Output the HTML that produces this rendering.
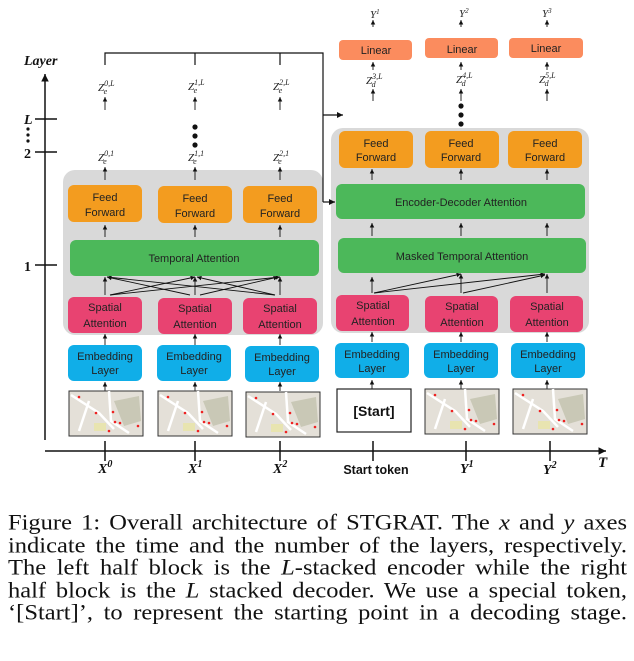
<!DOCTYPE html>
<html><head><meta charset="utf-8"><style>
body{margin:0;width:634px;height:661px;background:#fff;overflow:hidden;position:relative}
svg{position:absolute;left:0;top:0}
.cap{position:absolute;left:8px;top:512px;width:619px;font-family:"Liberation Serif",serif;font-size:24.5px;line-height:24.5px;color:#111;transform:scaleY(0.92);transform-origin:0 0}
.cap div{text-align:justify;text-align-last:justify;white-space:nowrap}
.b text{font-family:"Liberation Sans",sans-serif;font-size:11px;fill:#222;text-anchor:middle}
.m text{font-family:"Liberation Serif",serif;font-style:italic;fill:#222}
</style></head><body>
<svg width="634" height="500" viewBox="0 0 634 500">
<defs>
<marker id="a" markerWidth="6" markerHeight="6" refX="5" refY="3" orient="auto"><path d="M0,0.5 L5,3 L0,5.5z" fill="#111"/></marker>
<g id="map">
<rect x="0" y="0" width="74" height="45" fill="#e4e0d8" stroke="#333" stroke-width="1"/>
<path d="M45,10 L70,5 L72,30 L55,35 Z" fill="#c9c8b6"/>
<rect x="25" y="32" width="12" height="8" fill="#e8e4b0"/>
<path d="M2,4 L30,22 L45,38 M40,0 L42,30 L60,42 M20,10 L10,40" stroke="#fff" stroke-width="2.5" fill="none"/>
<circle cx="10" cy="6" r="1.3" fill="#e22"/><circle cx="27" cy="22" r="1.3" fill="#e22"/><circle cx="44" cy="21" r="1.3" fill="#e22"/>
<circle cx="46" cy="31" r="1.3" fill="#e22"/><circle cx="51" cy="32" r="1.3" fill="#e22"/><circle cx="40" cy="40" r="1.3" fill="#e22"/><circle cx="69" cy="35" r="1.3" fill="#e22"/>
</g>
</defs>
<g stroke="#111" stroke-width="1.5" fill="none">
<line x1="45" y1="440" x2="45" y2="74" marker-end="url(#a)"/>
<line x1="45" y1="451" x2="606" y2="451" marker-end="url(#a)"/>
<line x1="35" y1="119" x2="57" y2="119"/><line x1="35" y1="152" x2="57" y2="152"/><line x1="35" y1="265" x2="57" y2="265"/>
<line x1="105" y1="441" x2="105" y2="461"/><line x1="195" y1="441" x2="195" y2="461"/><line x1="280" y1="441" x2="280" y2="461"/>
<line x1="373" y1="441" x2="373" y2="461"/><line x1="466" y1="441" x2="466" y2="461"/><line x1="550" y1="441" x2="550" y2="461"/>
</g>
<g font-family="Liberation Serif,serif" font-weight="bold" fill="#111">
<text x="24" y="65" font-size="14" font-style="italic">Layer</text>
<text x="24" y="124" font-size="14" font-style="italic">L</text>
<text x="24" y="158" font-size="14">2</text>
<text x="24" y="271" font-size="14">1</text>
<text x="598" y="467" font-size="15" font-style="italic">T</text>
</g>
<g fill="#111"><circle cx="28" cy="129" r="1.6"/><circle cx="28" cy="135" r="1.6"/><circle cx="28" cy="141" r="1.6"/></g>
<rect x="63" y="170" width="260" height="165" rx="12" fill="#d9d9d9"/>
<rect x="331" y="128" width="258" height="205" rx="12" fill="#d9d9d9"/>
<g stroke="#111" stroke-width="1.2" fill="none">
<path d="M105,65 V53 H323 V202"/><line x1="195" y1="53" x2="195" y2="65"/><line x1="280" y1="53" x2="280" y2="65"/>
<line x1="323" y1="115" x2="343" y2="115" marker-end="url(#a)"/>
<line x1="323" y1="202" x2="335" y2="202" marker-end="url(#a)"/>
</g>
<g stroke="#111" stroke-width="0.9" fill="none" marker-end="url(#a)">
<line x1="105" y1="110" x2="105" y2="97"/><line x1="195" y1="110" x2="195" y2="97"/><line x1="280" y1="110" x2="280" y2="97"/>
<line x1="105" y1="180" x2="105" y2="167"/><line x1="195" y1="180" x2="195" y2="167"/><line x1="280" y1="180" x2="280" y2="167"/>
<line x1="105" y1="237" x2="105" y2="225"/><line x1="195" y1="237" x2="195" y2="225"/><line x1="280" y1="237" x2="280" y2="225"/>
<line x1="105" y1="295" x2="105" y2="277"/><line x1="195" y1="295" x2="195" y2="277"/><line x1="280" y1="295" x2="280" y2="277"/>
<line x1="110" y1="295" x2="195" y2="277"/><line x1="110" y1="295" x2="280" y2="277"/>
<line x1="190" y1="295" x2="107" y2="277"/><line x1="200" y1="295" x2="278" y2="277"/>
<line x1="275" y1="295" x2="107" y2="277"/><line x1="275" y1="295" x2="197" y2="277"/>
<line x1="105" y1="345" x2="105" y2="334"/><line x1="195" y1="345" x2="195" y2="334"/><line x1="280" y1="345" x2="280" y2="334"/>
<line x1="105" y1="391" x2="105" y2="382"/><line x1="195" y1="391" x2="195" y2="382"/><line x1="280" y1="391" x2="280" y2="382"/>
<line x1="373" y1="27" x2="373" y2="20"/><line x1="461" y1="27" x2="461" y2="20"/><line x1="547" y1="27" x2="547" y2="20"/>
<line x1="373" y1="70" x2="373" y2="62"/><line x1="461" y1="70" x2="461" y2="62"/><line x1="547" y1="70" x2="547" y2="62"/>
<line x1="373" y1="101" x2="373" y2="89"/><line x1="461" y1="101" x2="461" y2="89"/><line x1="547" y1="101" x2="547" y2="89"/>
<line x1="372" y1="180" x2="372" y2="169"/><line x1="461" y1="180" x2="461" y2="169"/><line x1="547" y1="180" x2="547" y2="169"/>
<line x1="372" y1="236" x2="372" y2="223"/><line x1="461" y1="236" x2="461" y2="223"/><line x1="547" y1="236" x2="547" y2="223"/>
<line x1="372" y1="293" x2="372" y2="277"/><line x1="461" y1="293" x2="461" y2="274"/><line x1="547" y1="293" x2="547" y2="274"/>
<line x1="374" y1="293" x2="461" y2="274"/><line x1="374" y1="293" x2="545" y2="274"/><line x1="463" y1="293" x2="545" y2="275"/>
<line x1="372" y1="342" x2="372" y2="332"/><line x1="461" y1="342" x2="461" y2="332"/><line x1="547" y1="342" x2="547" y2="332"/>
<line x1="372" y1="389" x2="372" y2="380"/><line x1="461" y1="389" x2="461" y2="380"/><line x1="547" y1="389" x2="547" y2="380"/>
</g>
<g fill="#111"><circle cx="195" cy="127" r="2.6"/><circle cx="195" cy="136" r="2.6"/><circle cx="195" cy="145" r="2.6"/>
<circle cx="461" cy="106" r="2.6"/><circle cx="461" cy="115" r="2.6"/><circle cx="461" cy="124" r="2.6"/></g>
<g class="b">
<g fill="#f39c1f">
<rect x="68" y="185" width="74" height="37" rx="6"/><rect x="158" y="186" width="74" height="37" rx="6"/><rect x="243" y="186" width="74" height="37" rx="6"/>
<rect x="339" y="131" width="74" height="37" rx="6"/><rect x="425" y="131" width="74" height="37" rx="6"/><rect x="508" y="131" width="74" height="37" rx="6"/></g>
<g fill="#4cb85a"><rect x="70" y="240" width="249" height="36" rx="6"/><rect x="336" y="184" width="249" height="35" rx="6"/><rect x="338" y="238" width="248" height="35" rx="6"/></g>
<g fill="#e84371">
<rect x="68" y="297" width="74" height="36" rx="6"/><rect x="158" y="298" width="74" height="36" rx="6"/><rect x="243" y="298" width="74" height="36" rx="6"/>
<rect x="336" y="295" width="73" height="36" rx="6"/><rect x="425" y="296" width="73" height="36" rx="6"/><rect x="510" y="296" width="73" height="36" rx="6"/></g>
<g fill="#10aee8">
<rect x="68" y="345" width="74" height="36" rx="6"/><rect x="157" y="345" width="74" height="36" rx="6"/><rect x="245" y="346" width="74" height="36" rx="6"/>
<rect x="335" y="343" width="74" height="35" rx="6"/><rect x="424" y="343" width="74" height="35" rx="6"/><rect x="511" y="343" width="74" height="35" rx="6"/></g>
<g fill="#fb8c5e"><rect x="339" y="40" width="73" height="20" rx="4"/><rect x="425" y="38" width="73" height="20" rx="4"/><rect x="509" y="38" width="74" height="20" rx="4"/></g>
<text x="105" y="201">Feed</text><text x="105" y="216">Forward</text>
<text x="195" y="202">Feed</text><text x="195" y="217">Forward</text>
<text x="280" y="202">Feed</text><text x="280" y="217">Forward</text>
<text x="376" y="147">Feed</text><text x="376" y="161">Forward</text>
<text x="461" y="147">Feed</text><text x="461" y="161">Forward</text>
<text x="545" y="147">Feed</text><text x="545" y="161">Forward</text>
<text x="194" y="262">Temporal Attention</text>
<text x="461" y="206">Encoder-Decoder Attention</text>
<text x="462" y="260">Masked Temporal Attention</text>
<text x="105" y="311">Spatial</text><text x="105" y="327">Attention</text>
<text x="195" y="312">Spatial</text><text x="195" y="328">Attention</text>
<text x="280" y="312">Spatial</text><text x="280" y="328">Attention</text>
<text x="373" y="309">Spatial</text><text x="373" y="325">Attention</text>
<text x="462" y="310">Spatial</text><text x="462" y="326">Attention</text>
<text x="547" y="310">Spatial</text><text x="547" y="326">Attention</text>
<text x="105" y="360">Embedding</text><text x="105" y="374">Layer</text>
<text x="194" y="360">Embedding</text><text x="194" y="374">Layer</text>
<text x="282" y="361">Embedding</text><text x="282" y="375">Layer</text>
<text x="372" y="358">Embedding</text><text x="372" y="372">Layer</text>
<text x="461" y="358">Embedding</text><text x="461" y="372">Layer</text>
<text x="548" y="358">Embedding</text><text x="548" y="372">Layer</text>
<text x="376" y="54">Linear</text><text x="462" y="53">Linear</text><text x="546" y="52">Linear</text>
</g>
<use href="#map" x="69" y="391"/><use href="#map" x="158" y="391"/><use href="#map" x="246" y="392"/>
<use href="#map" x="425" y="389"/><use href="#map" x="513" y="389"/>
<rect x="337" y="389" width="74" height="43" fill="#fff" stroke="#222" stroke-width="1.2"/>
<text x="374" y="416" font-family="Liberation Sans,sans-serif" font-weight="bold" font-size="14" text-anchor="middle" fill="#111">[Start]</text>
<g class="m" font-size="11">
<text x="98" y="91">Z<tspan font-size="8" dy="-5">0,L</tspan><tspan font-size="8" dx="-11" dy="8">e</tspan></text>
<text x="188" y="90">Z<tspan font-size="8" dy="-5">1,L</tspan><tspan font-size="8" dx="-11" dy="8">e</tspan></text>
<text x="273" y="90">Z<tspan font-size="8" dy="-5">2,L</tspan><tspan font-size="8" dx="-11" dy="8">e</tspan></text>
<text x="98" y="161">Z<tspan font-size="8" dy="-5">0,1</tspan><tspan font-size="8" dx="-11" dy="8">e</tspan></text>
<text x="188" y="161">Z<tspan font-size="8" dy="-5">1,1</tspan><tspan font-size="8" dx="-11" dy="8">e</tspan></text>
<text x="273" y="161">Z<tspan font-size="8" dy="-5">2,1</tspan><tspan font-size="8" dx="-11" dy="8">e</tspan></text>
<text x="366" y="84">Z<tspan font-size="8" dy="-5">3,L</tspan><tspan font-size="8" dx="-11" dy="8">d</tspan></text>
<text x="456" y="83">Z<tspan font-size="8" dy="-5">4,L</tspan><tspan font-size="8" dx="-11" dy="8">d</tspan></text>
<text x="539" y="83">Z<tspan font-size="8" dy="-5">5,L</tspan><tspan font-size="8" dx="-11" dy="8">d</tspan></text>
<text x="370" y="18">Y<tspan font-size="7" dy="-4">1</tspan></text>
<text x="459" y="17">Y<tspan font-size="7" dy="-4">2</tspan></text>
<text x="542" y="17">Y<tspan font-size="7" dy="-4">3</tspan></text>
</g>
<g font-family="Liberation Serif,serif" font-weight="bold" font-style="italic" font-size="14" fill="#111">
<text x="98" y="473">X<tspan font-size="10" dy="-6">0</tspan></text>
<text x="188" y="473">X<tspan font-size="10" dy="-6">1</tspan></text>
<text x="273" y="473">X<tspan font-size="10" dy="-6">2</tspan></text>
<text x="460" y="473">Y<tspan font-size="10" dy="-6">1</tspan></text>
<text x="543" y="474">Y<tspan font-size="10" dy="-6">2</tspan></text>
</g>
<text x="376" y="474" font-family="Liberation Sans,sans-serif" font-weight="bold" font-size="12.5" text-anchor="middle" fill="#111">Start token</text>
</svg>
<div class="cap">
<div>Figure 1: Overall architecture of STGRAT. The <i>x</i> and <i>y</i> axes</div>
<div>indicate the time and the number of the layers, respectively.</div>
<div>The left half block is the <i>L</i>-stacked encoder while the right</div>
<div>half block is the <i>L</i> stacked decoder. We use a special token,</div>
<div>‘[Start]’, to represent the starting point in a decoding stage.</div>
</div>
</body></html>
